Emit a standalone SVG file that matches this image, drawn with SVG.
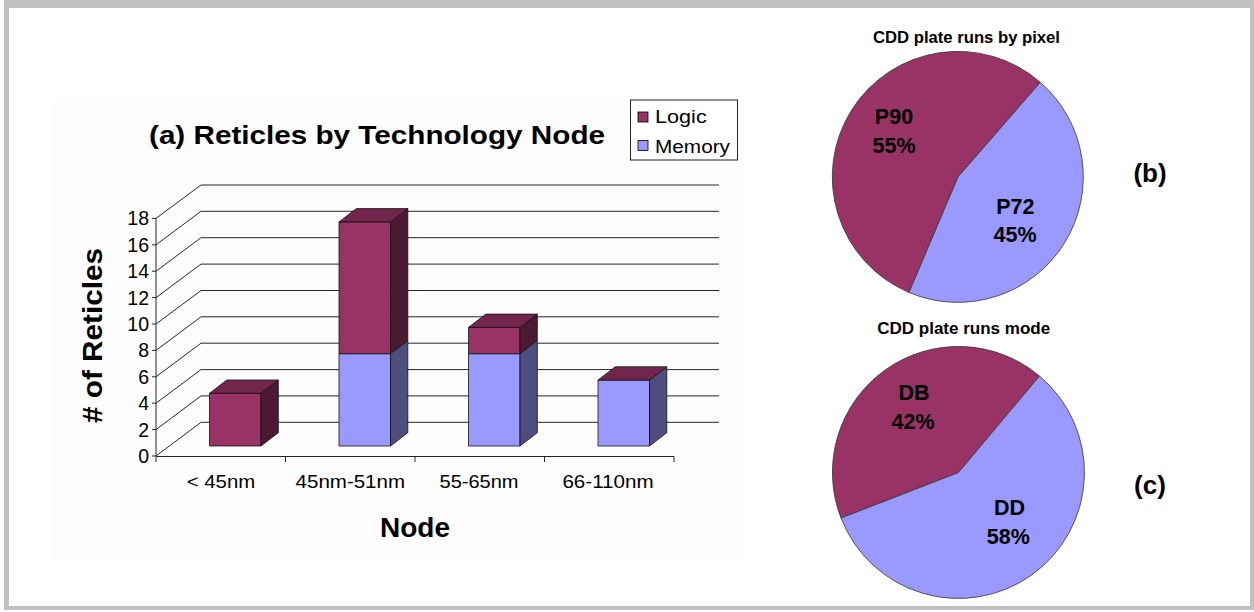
<svg xmlns="http://www.w3.org/2000/svg" width="1254" height="612" viewBox="0 0 1254 612">
  <style>
    .t { font-family: "Liberation Sans", Arial, sans-serif; fill: #000; }
    .b { font-weight: bold; }
    .grid { stroke: #262626; stroke-width: 1; fill: none; }
    .edge { stroke: #111; stroke-width: 0.8; stroke-linejoin: round; }
    .lf { fill: #993366; }
    .lt { fill: #73264d; }
    .ls { fill: #4d1a33; }
    .mf { fill: #9999ff; }
    .ms { fill: #4d4d80; }
    .pie { stroke: #333; stroke-width: 0.8; }
  </style>

  <!-- frame -->
  <rect x="4" y="0" width="1250" height="610" fill="#c0c0c0"/>
  <rect x="9" y="8" width="1241" height="598" fill="#ffffff"/>
  <rect x="53" y="97" width="690" height="465" fill="#fdfdfd"/>

  <!-- chart (a): walls, gridlines and axes -->
  <g id="axes">
    <g class="grid">
      <path d="M201,422.3H719 M201,395.9H719 M201,369.6H719 M201,343.2H719 M201,316.8H719 M201,290.5H719 M201,264.1H719 M201,237.7H719 M201,211.3H719 M201,185H719"/>
      <path d="M156,456L201,422.3 M156,429.6L201,395.9 M156,403.2L201,369.6 M156,376.8L201,343.2 M156,350.4L201,316.8 M156,324L201,290.5 M156,297.6L201,264.1 M156,271.2L201,237.7 M156,244.8L201,211.3 M156,218.4L201,185"/>
      <path d="M156,456V218.4 M152,456H156 M152,429.6H156 M152,403.2H156 M152,376.8H156 M152,350.4H156 M152,324H156 M152,297.6H156 M152,271.2H156 M152,244.8H156 M152,218.4H156"/>
      <path d="M156,456.5H674 M156,456.5V462 M285.5,456.5V462 M415,456.5V462 M544.5,456.5V462 M674,456.5V462"/>
    </g>
    <g class="t" font-size="19.5" text-anchor="end">
      <text x="149" y="463">0</text>
      <text x="149" y="436.6">2</text>
      <text x="149" y="410.2">4</text>
      <text x="149" y="383.8">6</text>
      <text x="149" y="357.4">8</text>
      <text x="149" y="331">10</text>
      <text x="149" y="304.6">12</text>
      <text x="149" y="278.2">14</text>
      <text x="149" y="251.8">16</text>
      <text x="149" y="225.4">18</text>
    </g>
    <g class="t" font-size="18.5" text-anchor="middle">
      <text x="221" y="488" textLength="68.5" lengthAdjust="spacingAndGlyphs">&lt; 45nm</text>
      <text x="350.3" y="488" textLength="109.4" lengthAdjust="spacingAndGlyphs">45nm-51nm</text>
      <text x="479" y="488" textLength="78.9" lengthAdjust="spacingAndGlyphs">55-65nm</text>
      <text x="608" y="488" textLength="91.2" lengthAdjust="spacingAndGlyphs">66-110nm</text>
    </g>
    <text class="t b" x="415" y="537" font-size="28" text-anchor="middle" textLength="70" lengthAdjust="spacingAndGlyphs">Node</text>
    <text class="t b" transform="translate(101.5,335.5) rotate(-90)" x="0" y="0" font-size="28" text-anchor="middle" textLength="175" lengthAdjust="spacingAndGlyphs"># of Reticles</text>
    <text class="t b" x="149" y="144" font-size="26" textLength="456" lengthAdjust="spacingAndGlyphs">(a) Reticles by Technology Node</text>
  </g>

  <!-- bar < 45nm: logic 4 -->
  <g id="bar-lt45">
    <rect class="lf edge" x="209.5" y="393.3" width="51.5" height="52.7"/>
    <polygon class="ls edge" points="261,393.3 278.3,380 278.3,432.7 261,446"/>
    <polygon class="lt edge" points="209.5,393.3 226.8,380 278.3,380 261,393.3"/>
  </g>

  <!-- bar 45nm-51nm: memory 7, logic 10 -->
  <g id="bar-45-51">
    <rect class="mf edge" x="339" y="353.7" width="51.5" height="92.3"/>
    <polygon class="ms edge" points="390.5,353.7 407.8,340.4 407.8,432.7 390.5,446"/>
    <rect class="lf edge" x="339" y="221.9" width="51.5" height="131.8"/>
    <polygon class="ls edge" points="390.5,221.9 407.8,208.6 407.8,340.4 390.5,353.7"/>
    <polygon class="lt edge" points="339,221.9 356.3,208.6 407.8,208.6 390.5,221.9"/>
  </g>

  <!-- bar 55-65nm: memory 7, logic 2 -->
  <g id="bar-55-65">
    <rect class="mf edge" x="468.5" y="353.7" width="51.5" height="92.3"/>
    <polygon class="ms edge" points="520,353.7 537.3,340.4 537.3,432.7 520,446"/>
    <rect class="lf edge" x="468.5" y="327.4" width="51.5" height="26.3"/>
    <polygon class="ls edge" points="520,327.4 537.3,314.1 537.3,340.4 520,353.7"/>
    <polygon class="lt edge" points="468.5,327.4 485.8,314.1 537.3,314.1 520,327.4"/>
  </g>

  <!-- bar 66-110nm: memory 5 -->
  <g id="bar-66-110">
    <rect class="mf edge" x="598" y="380.1" width="51.5" height="65.9"/>
    <polygon class="ms edge" points="649.5,380.1 666.8,366.8 666.8,432.7 649.5,446"/>
    <polygon class="lt edge" points="598,380.1 615.3,366.8 666.8,366.8 649.5,380.1"/>
  </g>

  <!-- legend -->
  <g id="legend">
    <rect x="630.5" y="100" width="107" height="60" fill="#ffffff" stroke="#222" stroke-width="1"/>
    <rect class="lf" x="638" y="112" width="10" height="10" stroke="#000" stroke-width="0.8"/>
    <rect class="mf" x="638" y="140.5" width="10" height="10" stroke="#000" stroke-width="0.8"/>
    <text class="t" x="655" y="123.3" font-size="18" textLength="51.7" lengthAdjust="spacingAndGlyphs">Logic</text>
    <text class="t" x="655" y="152.7" font-size="18" textLength="75" lengthAdjust="spacingAndGlyphs">Memory</text>
  </g>

  <!-- pie (b): plate runs by pixel -->
  <g id="pie-pixel">
    <text class="t b" x="966.5" y="42.7" font-size="16" text-anchor="middle" textLength="187" lengthAdjust="spacingAndGlyphs">CDD plate runs by pixel</text>
    <path class="lf pie" d="M958,177 L909,292.5 A125.5,125.5 0 1 1 1040.3,82.3 Z"/>
    <path class="mf pie" d="M958,177 L1040.3,82.3 A125.5,125.5 0 0 1 909,292.5 Z"/>
    <g class="t b" font-size="21.5" text-anchor="middle">
      <text x="894" y="124">P90</text>
      <text x="894" y="153.3">55%</text>
      <text x="1015.3" y="214">P72</text>
      <text x="1015" y="242.3">45%</text>
    </g>
    <text class="t b" x="1150" y="181.5" font-size="26" text-anchor="middle">(b)</text>
  </g>

  <!-- pie (c): plate runs mode -->
  <g id="pie-mode">
    <text class="t b" x="963.7" y="334" font-size="16" text-anchor="middle" textLength="173" lengthAdjust="spacingAndGlyphs">CDD plate runs mode</text>
    <path class="lf pie" d="M958.5,472.5 L841,518.1 A126,126 0 0 1 1039.5,376 Z"/>
    <path class="mf pie" d="M958.5,472.5 L1039.5,376 A126,126 0 1 1 841,518.1 Z"/>
    <g class="t b" font-size="21.5" text-anchor="middle">
      <text x="914" y="400">DB</text>
      <text x="913" y="429.3">42%</text>
      <text x="1009.5" y="515">DD</text>
      <text x="1008.3" y="544">58%</text>
    </g>
    <text class="t b" x="1150" y="494" font-size="26" text-anchor="middle">(c)</text>
  </g>
</svg>
